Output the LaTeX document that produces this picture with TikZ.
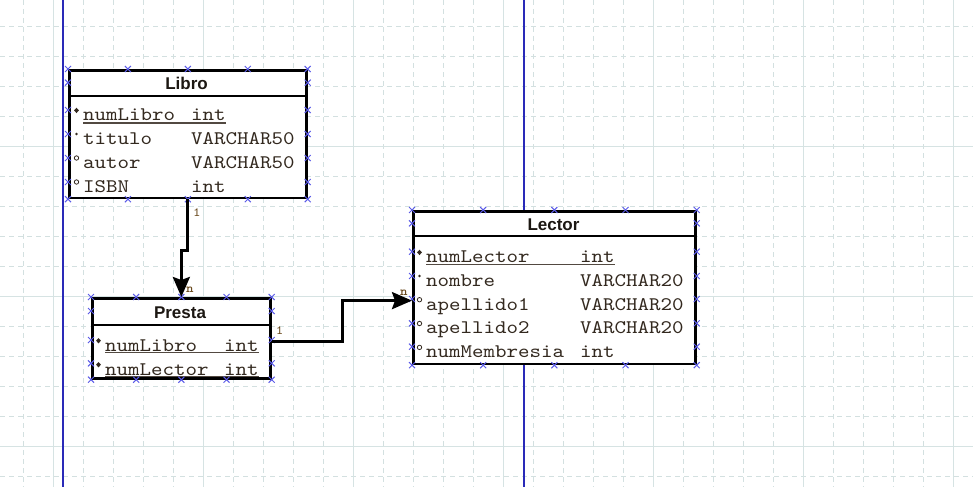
\documentclass[tikz,border=0pt]{standalone}
\usepackage{fontspec}
\setmainfont{Liberation Sans}
% typewriter face for the column lines, widened to a Courier-like pitch
\newfontfamily\colfont{lmmono10-regular}[Extension=.otf, FakeStretch=1.14, BoldFont=lmmonolt10-bold]
\usetikzlibrary{arrows.meta,calc,shapes.geometric}

\definecolor{gridminor}{HTML}{D3E0E0}
\definecolor{gridmajor}{HTML}{D6E3E3}
\definecolor{guide}{HTML}{2A2AB8}
\definecolor{anchormark}{HTML}{5A5AE8}
\definecolor{ink}{HTML}{33291F}
\definecolor{cardink}{HTML}{6A4A1E}
\definecolor{headink}{HTML}{1C1712}

\newcommand\fieldfont{\colfont\fontsize{19.2}{19.2}\selectfont}
\newcommand\cardfont{\colfont\fontsize{12.5}{12.5}\selectfont}

\tikzset{
  gridd/.style={draw=gridminor, line width=1.2pt, dash pattern=on 5pt off 4pt},
  grids/.style={draw=gridmajor, line width=1.3pt},
  guideline/.style={draw=guide, line width=1.6pt},
  tbl/.style={draw=black, line width=2.7pt, fill=white, inner sep=0pt, anchor=north west},
  sepline/.style={draw=black, line width=2pt},
  tabletitle/.style={font=\fontsize{17}{17}\selectfont\bfseries, text=headink, inner sep=0pt, anchor=base},
  fld/.style={font=\fieldfont, text=ink, inner sep=0pt, anchor=base west},
  keymark/.style={diamond, fill=ink, minimum width=5pt, minimum height=5.5pt, inner sep=0pt},
  reqmark/.style={circle, fill=ink, minimum size=2.8pt, inner sep=0pt},
  optmark/.style={circle, draw=ink, line width=0.8pt, minimum size=4.4pt, inner sep=0pt},
  uline/.style={draw=ink!85, line width=1.3pt},
  rel/.style={draw=black, line width=3pt, -{Stealth[length=20pt,width=17pt,inset=3pt]}},
  card/.style={font=\cardfont, text=cardink, inner sep=0pt, anchor=base west},
  cardb/.style={card, font=\cardfont\bfseries},
  xmk/.style={draw=anchormark, line width=1pt},
}

% small blue crosses marking the attachment points of a table box:
% five along the top and bottom edges, and one on each side at the given offsets
\newcommand\ermarks[2]{%
  \foreach \f in {0,0.25,0.5,0.75,1}{
    \path ($(#1.north west)!\f!(#1.north east)$) coordinate (xa)
          ($(#1.south west)!\f!(#1.south east)$) coordinate (xb);
    \draw[xmk] (xa) +(-3pt,-3pt) -- +(3pt,3pt) +(-3pt,3pt) -- +(3pt,-3pt);
    \draw[xmk] (xb) +(-3pt,-3pt) -- +(3pt,3pt) +(-3pt,3pt) -- +(3pt,-3pt);
  }
  \foreach \o in {#2}{
    \path ([yshift=-\o pt]#1.north west) coordinate (xa)
          ([yshift=-\o pt]#1.north east) coordinate (xb);
    \draw[xmk] (xa) +(-3pt,-3pt) -- +(3pt,3pt) +(-3pt,3pt) -- +(3pt,-3pt);
    \draw[xmk] (xb) +(-3pt,-3pt) -- +(3pt,3pt) +(-3pt,3pt) -- +(3pt,-3pt);
  }
}

\begin{document}
\begin{tikzpicture}[x=1pt,y=-1pt]
\useasboundingbox (0,0) rectangle (973,487);
\fill[white] (0,0) rectangle (973,487);

% background grid
\foreach \i in {0,...,31} \draw[gridd] ({23.3+30*\i},0) -- ({23.3+30*\i},487);
\foreach \i in {0,...,15} \draw[gridd] (0,{26.7+30*\i}) -- (973,{26.7+30*\i});
\foreach \i in {0,...,6} \draw[grids] ({53.3+150*\i},0) -- ({53.3+150*\i},487);
\foreach \i in {0,...,2} \draw[grids] (0,{146.7+150*\i}) -- (973,{146.7+150*\i});

% page guides
\draw[guideline] (63,0) -- (63,487);
\draw[guideline] (524,0) -- (524,487);

% ---- Libro ----
\node[tbl, minimum width=237pt, minimum height=127.5pt] (libro) at (68,69) {};
\draw[sepline] ([yshift=-27pt]libro.north west) -- ([yshift=-27pt]libro.north east);
\node[tabletitle] (libroT) at (186.5,89.3) {Libro};
\node[fld] (lb1) at (83,120.7) {numLibro};  \node[fld] (lb1t) at (191,120.7) {int};
\node[fld] (lb2) at (83,144.3) {titulo};    \node[fld] (lb2t) at (191,144.3) {VARCHAR50};
\node[fld] (lb3) at (83,168.3) {autor};     \node[fld] (lb3t) at (191,168.3) {VARCHAR50};
\node[fld] (lb4) at (83,192.3) {ISBN};      \node[fld] (lb4t) at (191,192.3) {int};
\draw[uline] ([yshift=-2.2pt]lb1.base west) -- ([yshift=-2.2pt]lb1t.base east);
\node[keymark] (lbm1) at ([xshift=-6.5pt,yshift=10.3pt]lb1.base west) {};
\node[reqmark] (lbm2) at ([xshift=-6.5pt,yshift=10.3pt]lb2.base west) {};
\node[optmark] (lbm3) at ([xshift=-6.5pt,yshift=10.3pt]lb3.base west) {};
\node[optmark] (lbm4) at ([xshift=-6.5pt,yshift=10.3pt]lb4.base west) {};

% ---- Presta ----
\node[tbl, minimum width=178pt, minimum height=80pt] (presta) at (91,297) {};
\draw[sepline] ([yshift=-28pt]presta.north west) -- ([yshift=-28pt]presta.north east);
\node[tabletitle] (prestaT) at (180,318.3) {Presta};
\node[fld] (pr1) at (105,351) {numLibro};   \node[fld] (pr1t) at (224,351) {int};
\node[fld] (pr2) at (105,375) {numLector};  \node[fld] (pr2t) at (224,375) {int};
\draw[uline] ([yshift=-1.8pt]pr1.base west) -- ([yshift=-1.8pt]pr1t.base east);
\draw[uline] ([yshift=-1.2pt]pr2.base west) -- ([yshift=-1.2pt]pr2t.base east);
\node[keymark] (prm1) at ([xshift=-6.5pt,yshift=10.3pt]pr1.base west) {};
\node[keymark] (prm2) at ([xshift=-6.5pt,yshift=10.3pt]pr2.base west) {};

% ---- Lector ----
\node[tbl, minimum width=282pt, minimum height=152.5pt] (lector) at (412,210) {};
\draw[sepline] ([yshift=-26pt]lector.north west) -- ([yshift=-26pt]lector.north east);
\node[tabletitle] (lectorT) at (553.5,230.7) {Lector};
\node[fld] (lc1) at (426,262.7) {numLector};    \node[fld] (lc1t) at (580,262.7) {int};
\node[fld] (lc2) at (426,286.3) {nombre};       \node[fld] (lc2t) at (580,286.3) {VARCHAR20};
\node[fld] (lc3) at (426,310) {apellido1};      \node[fld] (lc3t) at (580,310) {VARCHAR20};
\node[fld] (lc4) at (426,333.8) {apellido2};    \node[fld] (lc4t) at (580,333.8) {VARCHAR20};
\node[fld] (lc5) at (426,357.7) {numMembresia}; \node[fld] (lc5t) at (580,357.7) {int};
\draw[uline] ([yshift=-1.8pt]lc1.base west) -- ([yshift=-1.8pt]lc1t.base east);
\node[keymark] (lcm1) at ([xshift=-6.5pt,yshift=10.3pt]lc1.base west) {};
\node[reqmark] (lcm2) at ([xshift=-6.5pt,yshift=10.3pt]lc2.base west) {};
\node[optmark] (lcm3) at ([xshift=-6.5pt,yshift=10.3pt]lc3.base west) {};
\node[optmark] (lcm4) at ([xshift=-6.5pt,yshift=10.3pt]lc4.base west) {};
\node[optmark] (lcm5) at ([xshift=-6.5pt,yshift=10.3pt]lc5.base west) {};

% attachment points
\ermarks{libro}{13.7,41,65,89,113}
\ermarks{presta}{14,43,66.3}
\ermarks{lector}{13.3,41.7,66,89,113.3,136.7}

% cardinalities
\node[card] (c1a) at (193,216.7) {1};
\node[cardb] (c1b) at (186,292.7) {n};
\node[card] (c2a) at (275.7,334) {1};
\node[cardb] (c2b) at (400,295) {n};

% relationships
\draw[rel] (libro.south) -- ++(0,51) -| (presta.north);
\draw[rel] ([yshift=-3pt]presta.east) -- ++(71,0) |- ([yshift=-13pt]lector.west);
\end{tikzpicture}
\end{document}
